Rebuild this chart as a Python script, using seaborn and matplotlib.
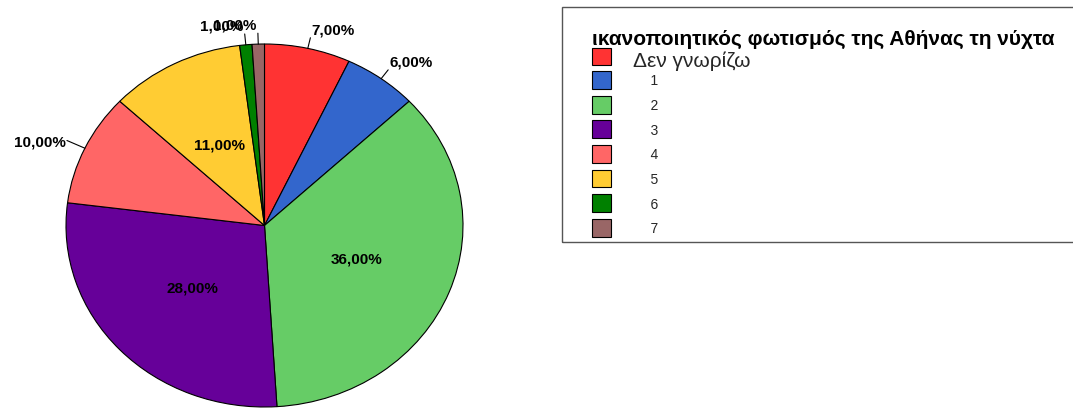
import numpy as np
import matplotlib
matplotlib.use("Agg")
import matplotlib.pyplot as plt
import seaborn as sns
from matplotlib.patches import Rectangle
from matplotlib.legend_handler import HandlerPatch

# data
categories = ["Δεν γνωρίζω", "1", "2", "3", "4", "5", "6", "7"]
shares = [7, 6, 36, 28, 10, 11, 1, 1]
colors = ["#FF3333", "#3366CC", "#66CC66", "#660099",
          "#FF6666", "#FFCC33", "#008000", "#996666"]
inside = [False, False, True, True, False, True, False, False]
legend_title = "ικανοποιητικός φωτισμός της Αθήνας τη νύχτα"

sns.set_theme(style="white")
plt.rcParams['font.family'] = ['Liberation Sans', 'DejaVu Sans']

W, H = 1073, 410
fig = plt.figure(figsize=(W / 100, H / 100), dpi=100)
ax = fig.add_axes([66 / W, 2 / H, 397 / W, 363 / H])

wedges, _ = ax.pie(shares, colors=colors, startangle=90, counterclock=False,
                   wedgeprops=dict(edgecolor="black", linewidth=0.8))
ax.set_aspect("auto")
ax.set_xlim(-1, 1)
ax.set_ylim(-1, 1)
ax.axis("off")

def fmt(v):
    return f"{v:.2f}".replace(".", ",") + "%"

for w, v, ins in zip(wedges, shares, inside):
    ang = np.deg2rad((w.theta1 + w.theta2) / 2)
    cx, cy = np.cos(ang), np.sin(ang)
    if ins:
        ax.text(0.5 * cx, 0.5 * cy, fmt(v), ha="center", va="center",
                fontsize=11, fontweight="bold", color="black")
    else:
        r = 1.06 if abs(cy) > 0.5 else 1.1
        ax.plot([cx, r * cx], [cy, r * cy], color="black", lw=0.8,
                clip_on=False)
        side = 1 if cx >= 0 else -1
        ax.annotate(fmt(v), (r * cx, r * cy),
                    xytext=(side * 1, 1 if abs(cy) > 0.5 else -1),
                    textcoords="offset points",
                    ha="left" if side > 0 else "right",
                    va="bottom" if abs(cy) > 0.5 else "center",
                    fontsize=11, fontweight="bold", color="black",
                    annotation_clip=False)

# legend frame (runs past the right edge as in the original)
fig.add_artist(Rectangle((562 / W, (H - 243) / H), 600 / W, 235 / H,
                         transform=fig.transFigure, fill=False,
                         edgecolor="#555555", linewidth=1))

fig.text(592 / W, (H - 45) / H, legend_title, ha="left", va="baseline",
         fontsize=15, fontweight="bold", color="black")

# first entry is set in a larger font than the rest
leg1 = fig.legend(wedges[:1], categories[:1], loc="upper left",
                  bbox_to_anchor=(592 / W, (H - 48.5) / H),
                  frameon=False, borderpad=0, borderaxespad=0,
                  fontsize=15, handlelength=0.91, handleheight=1.343,
                  handletextpad=1.06,
                  handler_map={wedges[0]: HandlerPatch(ypad=0.259)})

labels = ["    " + c for c in categories[1:]]
leg2 = fig.legend(wedges[1:], labels, loc="upper left",
                  bbox_to_anchor=(592 / W, (H - 72) / H),
                  frameon=False, borderpad=0, borderaxespad=0,
                  fontsize=10, handlelength=1.37, handleheight=1.6,
                  handletextpad=1.7, labelspacing=0.49)

fig.savefig("out.png", dpi=100)
